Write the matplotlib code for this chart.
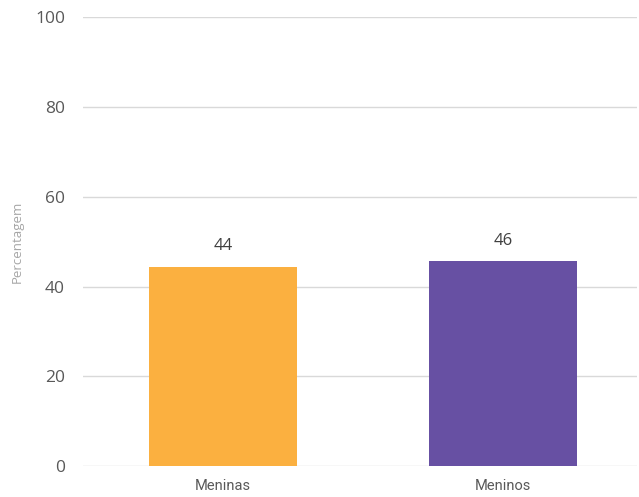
import matplotlib
matplotlib.use("Agg")
import matplotlib.pyplot as plt

categorias = ["Meninas", "Meninos"]
valores = [44.4, 45.6]
rotulos = ["44", "46"]
cores = ["#FBB040", "#6750A3"]
yticks = [0, 20, 40, 60, 80, 100]

plt.rcParams["font.family"] = ["Open Sans", "DejaVu Sans"]

fig = plt.figure(figsize=(6.39, 4.97), dpi=100)
ax = fig.add_axes([83/639, 1 - 466.3/497, 554/639, (466.3 - 17)/497])

x = range(len(categorias))
bars = ax.bar(x, valores, width=0.529, color=cores, zorder=3)

# value labels above the bars
for b, lab in zip(bars, rotulos):
    ax.annotate(lab, (b.get_x() + b.get_width()/2, b.get_height()),
                xytext=(0, 9), textcoords="offset points",
                ha="center", va="bottom", fontsize=12, color="#404040")

ax.set_xlim(-0.5, 1.4786)
ax.set_ylim(0, 100)
ax.set_yticks(yticks)
ax.set_xticks(list(x))
ax.set_xticklabels(categorias, fontsize=10.5, color="#595959", family="Roboto")
ax.tick_params(axis="y", length=0, pad=13, labelsize=12.5, labelcolor="#595959")
ax.tick_params(axis="x", length=0, pad=9)
ax.grid(axis="y", color="#d9d9d9", linewidth=1, zorder=0)
for s in ax.spines.values():
    s.set_visible(False)

ax.set_ylabel("Percentagem", fontsize=9.5, color="#a6a6a6", labelpad=8)

fig.savefig("out.png", dpi=100)
